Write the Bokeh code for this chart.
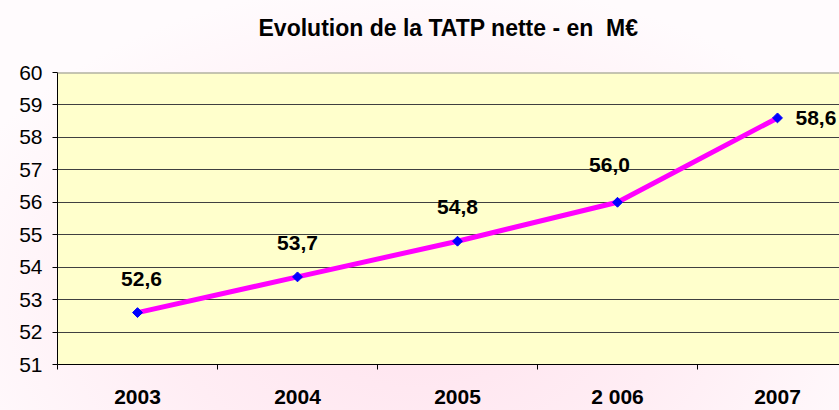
from bokeh.plotting import figure
from bokeh.models import Range1d, FixedTicker, ColumnDataSource, Span, Title
from bokeh.embed import file_html
from bokeh.resources import INLINE
from bokeh.core.properties import value

# ---- data ----
title_text = "Evolution de la TATP nette - en \u00a0M\u20ac"
years = ["2003", "2004", "2005", "2 006", "2007"]
tatp = [52.6, 53.7, 54.8, 56.0, 58.6]
tatp_labels = ["52,6", "53,7", "54,8", "56,0", "58,6"]
y_ticks = [51, 52, 53, 54, 55, 56, 57, 58, 59, 60]

# ---- label styling (screen offsets) ----
lab_dx = [4, 0, 0, -8, 18]
lab_dy = [-34, -34, -34, -37, 0]
lab_align = ["center", "center", "center", "center", "left"]

xs = [i + 0.5 for i in range(len(years))]
src = ColumnDataSource(dict(x=xs, y=tatp, lab=tatp_labels, dx=lab_dx, dy=lab_dy, al=lab_align))

FONT = "Liberation Sans"

p = figure(width=839, height=410, output_backend="svg", toolbar_location=None,
           x_range=Range1d(0, 4.8875), y_range=Range1d(51, 60),
           min_border_left=57, min_border_right=0, min_border_top=72, min_border_bottom=42)

p.border_fill_color = None
p.styles = {"background": "radial-gradient(ellipse 60% 80% at 50% 75%, #FFE3EE 0%, #FFEDF4 50%, #FFFBFD 100%)"}
p.background_fill_color = "#FFFFCC"
p.outline_line_color = None

# spacer between frame and title
p.add_layout(Title(text=" ", text_font_size="1px", standoff=22), "above")

p.title.text = title_text
p.title.align = "center"
p.title.vertical_align = "top"
p.title.text_font = FONT
p.title.text_font_size = "23px"
p.title.text_font_style = "bold"
p.title.text_color = "black"
p.title.standoff = 10

# y axis
p.yaxis.ticker = FixedTicker(ticks=y_ticks)
p.yaxis.axis_line_color = "black"
p.yaxis.major_tick_line_color = "black"
p.yaxis.major_tick_out = 5
p.yaxis.major_tick_in = 0
p.yaxis.minor_tick_line_color = None
p.yaxis.major_label_standoff = 10
p.yaxis.major_label_text_font = FONT
p.yaxis.major_label_text_font_size = "21px"
p.yaxis.major_label_text_color = "black"

# x axis
p.xaxis.ticker = FixedTicker(ticks=xs, minor_ticks=[0, 1, 2, 3, 4, 5])
p.xaxis.major_label_overrides = {x: y for x, y in zip(xs, years)}
p.xaxis.axis_line_color = "black"
p.xaxis.major_tick_line_color = None
p.xaxis.major_tick_out = 0
p.xaxis.major_tick_in = 0
p.xaxis.minor_tick_line_color = "black"
p.xaxis.minor_tick_out = 5
p.xaxis.minor_tick_in = 0
p.xaxis.major_label_standoff = 15
p.xaxis.major_label_text_font = FONT
p.xaxis.major_label_text_font_size = "21px"
p.xaxis.major_label_text_font_style = "bold"
p.xaxis.major_label_text_color = "black"

# grid
p.xgrid.grid_line_color = None
p.ygrid.ticker = FixedTicker(ticks=y_ticks)
p.ygrid.grid_line_color = "#404040"
p.ygrid.grid_line_width = 1

p.add_layout(Span(location=60, dimension="width", line_color="#8c8c8c", line_width=2))

p.line("x", "y", source=src, line_color="#FF00FF", line_width=5)
p.scatter("x", "y", source=src, marker="square", angle=0.785398, size=7,
          fill_color="#0000FF", line_color="#0000FF")

p.text("x", "y", text="lab", source=src, x_offset="dx", y_offset="dy", text_align="al",
       text_baseline="middle", text_font=value(FONT), text_font_size="21px",
       text_font_style="bold", text_color="black")

open("out.html", "w").write(file_html(p, INLINE))
